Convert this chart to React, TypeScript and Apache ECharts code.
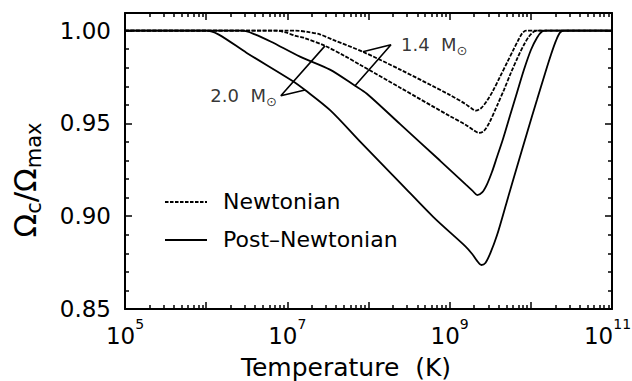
import React, { useEffect, useRef } from 'react';
import * as echarts from 'echarts';

const FONT = 'DejaVu Sans';

// x values are log10 of the temperature (K); y values are Omega_c / Omega_max
const n14LogT = [5.0, 7.0, 7.1, 7.25, 7.4, 7.566, 7.93, 8.39, 9.0, 9.19, 9.26, 9.32, 9.386, 9.46, 9.534, 9.62, 9.706, 9.78, 9.842, 9.891, 9.94, 10.04, 11.0];
const n14Ratio = [1.0, 1.0, 1.0, 0.9993, 0.998, 0.995, 0.9886, 0.979, 0.9654, 0.9606, 0.9584, 0.9569, 0.9582, 0.9622, 0.9676, 0.9751, 0.9827, 0.9892, 0.9946, 0.9984, 1.0, 1.0, 1.0];

const n20LogT = [5.0, 6.75, 6.85, 6.98, 7.1, 7.2, 7.464, 7.7, 7.9, 8.4, 9.0, 9.2, 9.3, 9.36, 9.42, 9.49, 9.583, 9.669, 9.755, 9.842, 9.915, 9.977, 10.039, 10.088, 10.19, 11.0];
const n20Ratio = [1.0, 1.0, 1.0, 0.999, 0.9972, 0.9962, 0.9918, 0.9865, 0.9815, 0.969, 0.954, 0.9492, 0.9462, 0.9449, 0.9458, 0.9505, 0.9595, 0.9681, 0.9773, 0.9859, 0.9924, 0.9968, 0.9995, 1.0, 1.0, 1.0];

const pn14LogT = [5.0, 6.35, 6.45, 6.6, 6.8, 7.156, 7.525, 7.834, 7.98, 8.39, 8.88, 9.2, 9.28, 9.34, 9.4, 9.46, 9.521, 9.583, 9.657, 9.743, 9.829, 9.915, 10.002, 10.076, 10.137, 10.187, 10.29, 11.0];
const pn14Ratio = [1.0, 1.0, 1.0, 0.998, 0.994, 0.986, 0.979, 0.9703, 0.966, 0.9496, 0.93, 0.917, 0.9138, 0.9114, 0.9128, 0.9172, 0.9238, 0.9319, 0.9416, 0.9541, 0.9665, 0.9789, 0.9897, 0.9962, 0.9995, 1.0, 1.0, 1.0];

const pn20LogT = [5.0, 5.9, 6.0, 6.15, 6.5, 7.06, 7.218, 7.53, 7.9, 8.39, 8.8, 9.2, 9.28, 9.34, 9.39, 9.44, 9.5, 9.583, 9.706, 9.829, 9.953, 10.076, 10.174, 10.248, 10.31, 10.359, 10.408, 10.51, 11.0];
const pn20Ratio = [1.0, 1.0, 1.0, 0.998, 0.988, 0.973, 0.968, 0.957, 0.94, 0.918, 0.8995, 0.8835, 0.8795, 0.8758, 0.8737, 0.8748, 0.88, 0.8897, 0.9081, 0.9265, 0.9449, 0.9627, 0.9768, 0.987, 0.9946, 0.9989, 1.0, 1.0, 1.0];

// leader lines of the mass labels: [end on Newtonian curve, tip, end on post-Newtonian curve]
const lead14LogT = [7.93, 8.277, 7.834];
const lead14Ratio = [0.9886, 0.9924, 0.9703];
const lead20LogT = [7.464, 6.92, 7.218];
const lead20Ratio = [0.9918, 0.9649, 0.968];

const xMajorTicks = [5, 6, 7, 8, 9, 10, 11];
const xLabelTicks = [5, 7, 9, 11];
const xMinorMultipliers = [2, 3, 4, 5, 6, 7, 8, 9];
const yMajorTicks = [0.85, 0.9, 0.95, 1.0];
const yMinorTicks = [0.86, 0.87, 0.88, 0.89, 0.91, 0.92, 0.93, 0.94, 0.96, 0.97, 0.98, 0.99];

const X_MIN = 5;
const X_MAX = 11;
const Y_MIN = 0.85;
const Y_MAX = 1.0095;

const zip = (xs: number[], ys: number[]) => xs.map((x, i) => [x, ys[i]]);

export default function App() {
  const ref = useRef<HTMLDivElement>(null);

  useEffect(() => {
    const chart = echarts.init(ref.current as HTMLDivElement, null, { renderer: 'svg' });
    const black = '#000';

    const xMinorTicks: number[] = [];
    for (let n = X_MIN; n < X_MAX; n++) {
      xMinorMultipliers.forEach((k) => xMinorTicks.push(n + Math.log10(k)));
    }

    const xAxisCfg = (position: string, ticks: number[], length: number, line: boolean, labels: boolean, name?: string): any => ({
      type: 'value',
      min: X_MIN,
      max: X_MAX,
      position,
      name: name,
      nameLocation: 'middle',
      nameGap: 46,
      nameTextStyle: { fontSize: 25, lineHeight: 25, fontFamily: FONT, color: black, padding: [0, 45, 0, 0] },
      axisLine: { show: line, onZero: false, lineStyle: { color: black, width: 2 } },
      axisTick: { show: true, inside: true, length, customValues: ticks, lineStyle: { color: black, width: 1.5 } },
      axisLabel: labels
        ? {
            show: true,
            customValues: xLabelTicks,
            margin: 8,
            formatter: (v: number) => (v >= X_MAX ? `{b|10}{e|${Math.round(v)}}` : `{b|10}{s|${Math.round(v)}}`),
            rich: {
              b: { fontSize: 23, fontFamily: FONT, color: black, lineHeight: 30, verticalAlign: 'bottom' },
              s: { fontSize: 14, fontFamily: FONT, color: black, verticalAlign: 'top' },
              e: { fontSize: 14, fontFamily: FONT, color: black, verticalAlign: 'top', padding: [0, 9, 0, 0] },
            },
          }
        : { show: false },
      splitLine: { show: false },
    });

    const yAxisCfg = (position: string, ticks: number[], length: number, line: boolean, labels: boolean): any => ({
      type: 'value',
      min: Y_MIN,
      max: Y_MAX,
      position,
      axisLine: { show: line, onZero: false, lineStyle: { color: black, width: 2 } },
      axisTick: { show: true, inside: true, length, customValues: ticks, lineStyle: { color: black, width: 1.5 } },
      axisLabel: labels
        ? {
            show: true,
            customValues: yMajorTicks,
            margin: 14,
            fontSize: 23,
            fontFamily: FONT,
            color: black,
            formatter: (v: number) => v.toFixed(2),
          }
        : { show: false },
      splitLine: { show: false },
    });

    const curve = (name: string, xs: number[], ys: number[], dashed: boolean): any => ({
      type: 'line',
      name,
      data: zip(xs, ys),
      xAxisIndex: 0,
      yAxisIndex: 0,
      showSymbol: false,
      symbol: 'none',
      smooth: 0.3,
      lineStyle: { color: black, width: 1.8, type: dashed ? [4, 1.5] : 'solid' },
      silent: true,
    });

    const leader = (xs: number[], ys: number[]): any => ({
      type: 'line',
      data: zip(xs, ys),
      xAxisIndex: 0,
      yAxisIndex: 0,
      showSymbol: false,
      symbol: 'none',
      smooth: false,
      lineStyle: { color: black, width: 1.6 },
      silent: true,
    });

    const massRich = {
      n: { fontSize: 18, fontFamily: FONT, color: black, lineHeight: 24, verticalAlign: 'middle' },
      s: { fontSize: 13, fontFamily: FONT, color: black, verticalAlign: 'bottom' },
    };

    const massLabel = (x: number, y: number, text: string, position: string, distance: number): any => ({
      type: 'scatter',
      data: [[x, y]],
      xAxisIndex: 0,
      yAxisIndex: 0,
      symbolSize: 0,
      itemStyle: { color: 'rgba(0,0,0,0)' },
      silent: true,
      label: {
        show: true,
        position,
        distance,
        color: black,
        formatter: `{n|${text}  M}{s|⊙}`,
        rich: massRich,
      },
    });

    const option: any = {
      animation: false,
      backgroundColor: '#fff',
      grid: { left: 125, right: 20, top: 13, bottom: 72, containLabel: false, outerBoundsMode: 'none' },
      xAxis: [
        xAxisCfg('bottom', xMajorTicks, 7, true, true, 'Temperature  (K)'),
        xAxisCfg('bottom', xMinorTicks, 4, false, false),
        xAxisCfg('top', xMajorTicks, 7, true, false),
        xAxisCfg('top', xMinorTicks, 4, false, false),
      ],
      yAxis: [
        yAxisCfg('left', yMajorTicks, 7, true, true),
        yAxisCfg('left', yMinorTicks, 4, false, false),
        yAxisCfg('right', yMajorTicks, 7, true, false),
        yAxisCfg('right', yMinorTicks, 4, false, false),
      ],
      series: [
        curve('Newtonian 1.4', n14LogT, n14Ratio, true),
        curve('Newtonian 2.0', n20LogT, n20Ratio, true),
        curve('Post–Newtonian 1.4', pn14LogT, pn14Ratio, false),
        curve('Post–Newtonian 2.0', pn20LogT, pn20Ratio, false),
        leader(lead14LogT, lead14Ratio),
        leader(lead20LogT, lead20Ratio),
        massLabel(lead14LogT[1], lead14Ratio[1], '1.4', 'right', 10),
        massLabel(lead20LogT[1], lead20Ratio[1], '2.0', 'left', 4),
      ],
      graphic: [
        {
          type: 'line',
          shape: { x1: 165, y1: 202, x2: 207, y2: 202 },
          style: { stroke: black, lineWidth: 1.8, lineDash: [3.5, 1.5] },
          silent: true,
        },
        {
          type: 'text',
          x: 223,
          y: 201,
          style: { text: 'Newtonian', fontSize: 22, fontFamily: FONT, fill: black, align: 'left', verticalAlign: 'middle' },
          silent: true,
        },
        {
          type: 'line',
          shape: { x1: 165, y1: 240, x2: 207, y2: 240 },
          style: { stroke: black, lineWidth: 1.8 },
          silent: true,
        },
        {
          type: 'text',
          x: 223,
          y: 239,
          style: { text: 'Post–Newtonian', fontSize: 22, fontFamily: FONT, fill: black, align: 'left', verticalAlign: 'middle' },
          silent: true,
        },
        {
          type: 'text',
          x: 25,
          y: 180,
          rotation: Math.PI / 2,
          style: {
            text: '{o|Ω}{sb|c}{o|/Ω}{sb|max}',
            align: 'center',
            verticalAlign: 'middle',
            fill: black,
            rich: {
              o: { fontSize: 31, fontFamily: FONT, color: black, lineHeight: 38, verticalAlign: 'middle' },
              sb: { fontSize: 21, fontFamily: FONT, color: black, verticalAlign: 'bottom' },
            },
          },
          silent: true,
        },
      ],
    };

    chart.setOption(option);
    return () => chart.dispose();
  }, []);

  return (
    <div
      ref={ref}
      style={{ position: 'absolute', left: 0, top: 0, width: 632, height: 381, background: '#fff' }}
    />
  );
}
